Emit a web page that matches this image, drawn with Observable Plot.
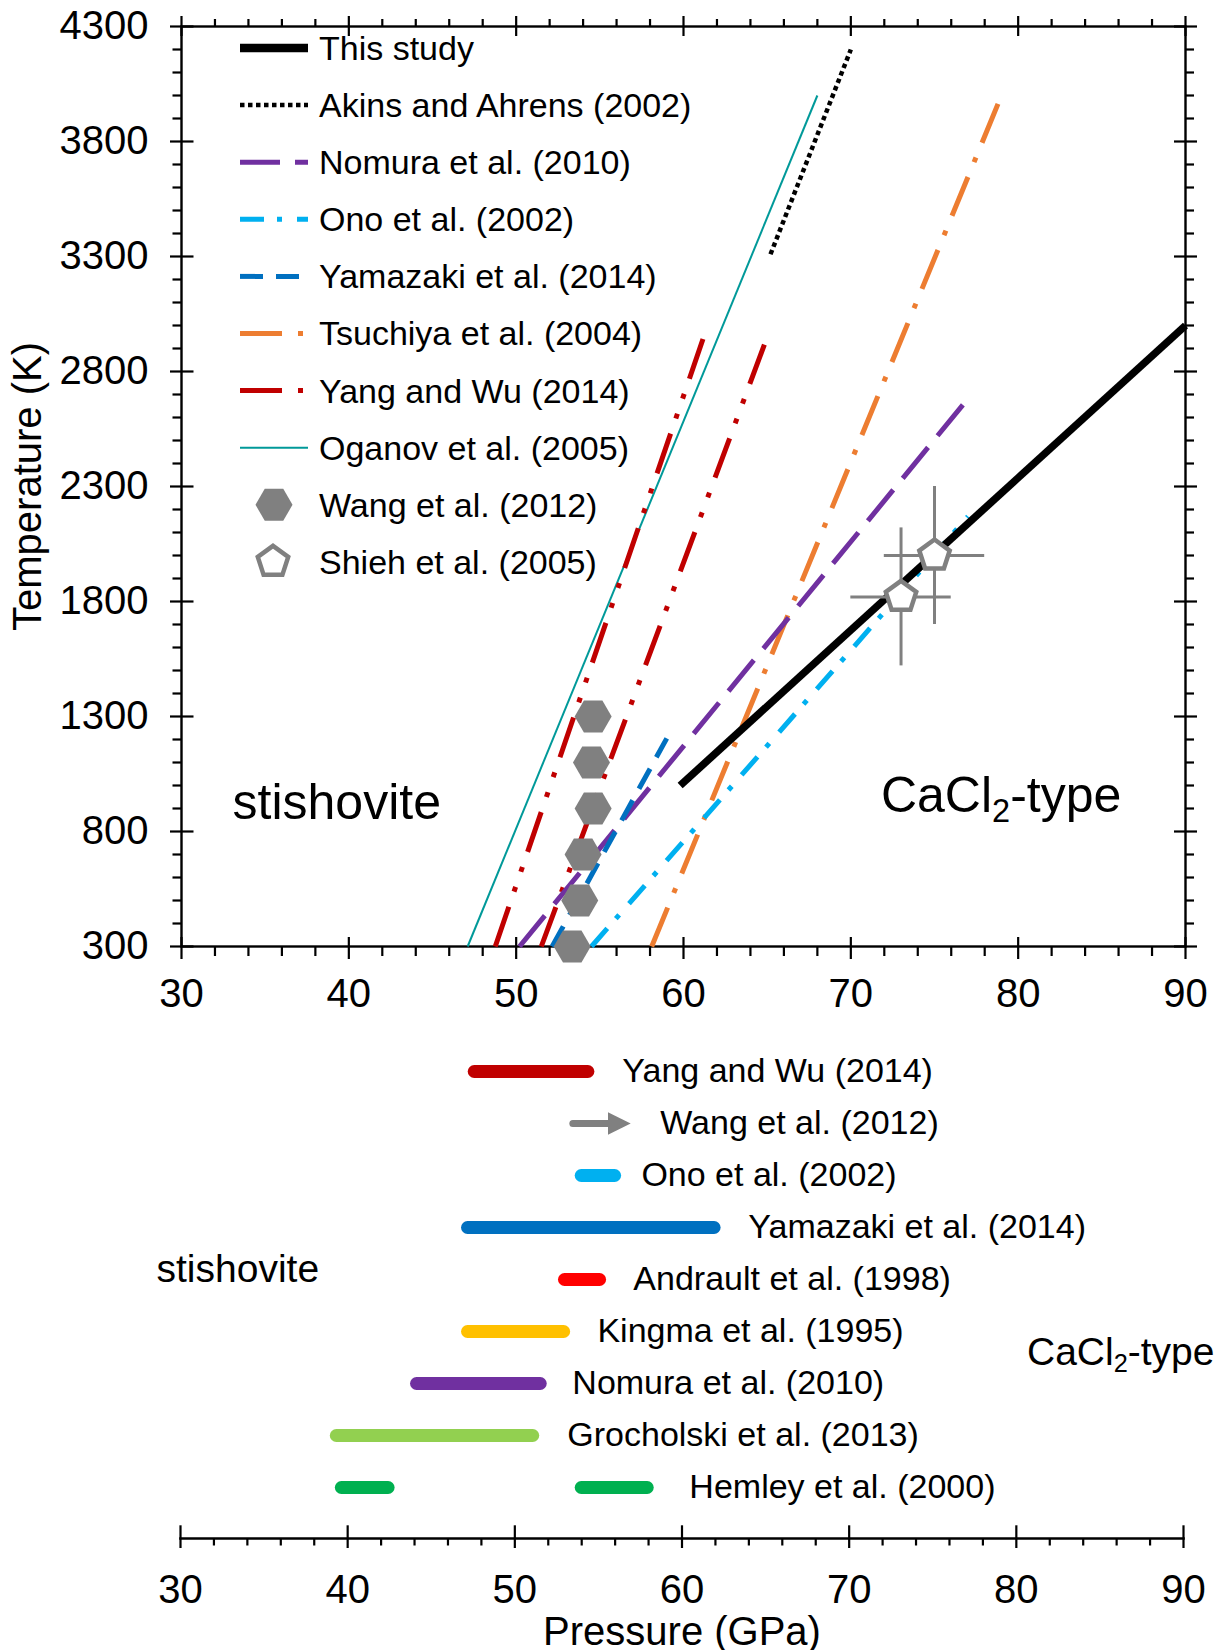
<!DOCTYPE html>
<html>
<head>
<meta charset="utf-8">
<script src="https://cdn.jsdelivr.net/npm/d3@7"></script>
<script src="https://cdn.jsdelivr.net/npm/@observablehq/plot@0.6"></script>
<style>
  body { margin: 0; background: #fff; font-family: "Liberation Sans", Arial, Helvetica, sans-serif; }
  #chart { width: 1221px; }
  #chart svg { display: block; }
</style>
</head>
<body>
<div id="chart"></div>
<script>
// ---------------- DATA ----------------
const pressureTicks = [30, 40, 50, 60, 70, 80, 90];
const temperatureTicks = [300, 800, 1300, 1800, 2300, 2800, 3300, 3800, 4300];

// Phase boundaries, pressure (GPa) / temperature (K) end points
const thisStudyP = [59.8, 90.0];   const thisStudyT = [1000, 3000];
const akinsP     = [65.2, 70.0];   const akinsT     = [3310, 4200];
const nomuraP    = [50.2, 77.2];   const nomuraT    = [300, 2700];
const onoP       = [54.5, 77.0];   const onoT       = [300, 2170];
const yamazakiP  = [52.15, 59.0];  const yamazakiT  = [300, 1205];
const tsuchiyaP  = [58.1, 79.0];   const tsuchiyaT  = [300, 4000];
const yangLowP   = [48.75, 61.3];  const yangLowT   = [300, 2970];
const yangHighP  = [51.5, 65.0];   const yangHighT  = [300, 2950];
const oganovP    = [47.1, 68.0];   const oganovT    = [300, 4000];

// Wang et al. (2012) transition points
const wangP = [54.6, 54.5, 54.6, 54.0, 53.8, 53.35];
const wangT = [1300, 1100, 900, 700, 500, 300];

// Shieh et al. (2005) points with error bars
const shiehP  = [73.0, 75.0];
const shiehT  = [1820, 2000];
const shiehDP = [3, 3];
const shiehDT = [300, 300];

// Legend of the upper panel
const legendNames = ["This study", "Akins and Ahrens (2002)", "Nomura et al. (2010)", "Ono et al. (2002)",
  "Yamazaki et al. (2014)", "Tsuchiya et al. (2004)", "Yang and Wu (2014)", "Oganov et al. (2005)",
  "Wang et al. (2012)", "Shieh et al. (2005)"];
const legendKeys = ["thisStudy", "akins", "nomura", "ono", "yamazaki", "tsuchiya", "yang", "oganov", "wang", "shieh"];

// Region labels of the upper panel
const regionNames = ["stishovite", "CaCl2-type"];
const regionP = [33.05, 71.8];
const regionT = [925, 955];

// Lower panel: transition pressure ranges at room temperature
const barStudies = ["Yang and Wu (2014)", "Wang et al. (2012)", "Ono et al. (2002)", "Yamazaki et al. (2014)",
  "Andrault et al. (1998)", "Kingma et al. (1995)", "Nomura et al. (2010)", "Grocholski et al. (2013)", "Hemley et al. (2000)"];
const segStudy = ["Yang and Wu (2014)", "Ono et al. (2002)", "Yamazaki et al. (2014)", "Andrault et al. (1998)",
  "Kingma et al. (1995)", "Nomura et al. (2010)", "Grocholski et al. (2013)", "Hemley et al. (2000)", "Hemley et al. (2000)"];
const segStart = [47.6, 54.0, 47.2, 53.0, 47.2, 44.15, 39.35, 39.65, 54.0];
const segEnd   = [54.4, 56.0, 61.95, 55.1, 52.95, 51.55, 51.1, 42.45, 57.95];
const arrowStudy = ["Wang et al. (2012)"];
const arrowStart = [53.5];
const arrowEnd   = [56.93];
const labelP = [56.43, 58.70, 57.57, 63.97, 57.09, 54.94, 53.44, 53.14, 60.44];

// ---------------- STYLES ----------------
const FONT = '"Liberation Sans", Arial, Helvetica, sans-serif';
const GRAY = "#808080";
const lineStyle = {
  thisStudy: {stroke: "#000000", strokeWidth: 7.5},
  akins:     {stroke: "#000000", strokeWidth: 4.5, strokeDasharray: "4.5,3.5"},
  nomura:    {stroke: "#7030A0", strokeWidth: 5, strokeDasharray: "40,15"},
  ono:       {stroke: "#00B0F0", strokeWidth: 5, strokeDasharray: "24,13,5,15"},
  yamazaki:  {stroke: "#0070C0", strokeWidth: 5, strokeDasharray: "23,13"},
  tsuchiya:  {stroke: "#ED7D31", strokeWidth: 5, strokeDasharray: "42,16,5,16"},
  yang:      {stroke: "#C00000", strokeWidth: 5, strokeDasharray: "42,16,5,16,5,16"},
  oganov:    {stroke: "#009999", strokeWidth: 2}
};
const barColor = {
  "Yang and Wu (2014)": "#C00000",
  "Wang et al. (2012)": GRAY,
  "Ono et al. (2002)": "#00B0F0",
  "Yamazaki et al. (2014)": "#0070C0",
  "Andrault et al. (1998)": "#FF0000",
  "Kingma et al. (1995)": "#FFC000",
  "Nomura et al. (2010)": "#7030A0",
  "Grocholski et al. (2013)": "#92D050",
  "Hemley et al. (2000)": "#00B050"
};

// custom symbols
const hexagonFlat = {draw(ctx, size) {
  const r = Math.sqrt(size / Math.PI);
  for (let k = 0; k < 6; k++) {
    const a = k * Math.PI / 3, x = r * Math.cos(a), y = r * Math.sin(a);
    if (k) ctx.lineTo(x, y); else ctx.moveTo(x, y);
  }
  ctx.closePath();
}};
const pentagon = {draw(ctx, size) {
  const r = Math.sqrt(size / Math.PI);
  for (let k = 0; k < 5; k++) {
    const a = -Math.PI / 2 + k * 2 * Math.PI / 5, x = r * Math.cos(a), y = r * Math.sin(a);
    if (k) ctx.lineTo(x, y); else ctx.moveTo(x, y);
  }
  ctx.closePath();
}};
const arrowHead = {draw(ctx, size) {
  const r = Math.sqrt(size / Math.PI);
  ctx.moveTo(-r, -r); ctx.lineTo(r, 0); ctx.lineTo(-r, r); ctx.closePath();
}};

// ---------------- TABLES ----------------
const boundaries = [
  {style: "oganov", P: oganovP, T: oganovT},
  {style: "yang", P: yangLowP, T: yangLowT},
  {style: "yang", P: yangHighP, T: yangHighT},
  {style: "tsuchiya", P: tsuchiyaP, T: tsuchiyaT},
  {style: "nomura", P: nomuraP, T: nomuraT},
  {style: "yamazaki", P: yamazakiP, T: yamazakiT},
  {style: "ono", P: onoP, T: onoT},
  {style: "thisStudy", P: thisStudyP, T: thisStudyT},
  {style: "akins", P: akinsP, T: akinsT}
];
const wang = wangP.map((p, i) => ({P: p, T: wangT[i]}));
const shieh = shiehP.map((p, i) => ({P: p, T: shiehT[i], dP: shiehDP[i], dT: shiehDT[i]}));
const regions = regionNames.map((n, i) => ({name: n, P: regionP[i], T: regionT[i]}));
const segments = segStudy.map((s, i) => ({study: s, start: segStart[i], end: segEnd[i]}));
const arrows = arrowStudy.map((s, i) => ({study: s, start: arrowStart[i], end: arrowEnd[i]}));
const barLabels = barStudies.map((s, i) => ({study: s, P: labelP[i]}));

const pressureMinor = d3.range(30, 90.01, 2).filter(v => v % 10 !== 0);
const temperatureMinor = d3.range(300, 4300.1, 100).filter(v => (v - 300) % 500 !== 0);
const fmt = d => String(d);

// ---------------- UPPER PANEL ----------------
const W = 1221;
const TOP_H = 1020, TOP_ML = 181, TOP_MR = 36, TOP_MT = 26, TOP_MB = 74;
const frameW = W - TOP_ML - TOP_MR, frameH = TOP_H - TOP_MT - TOP_MB;
const AX = 2.2;

function legendMark() {
  const g = d3.create("svg:g").attr("font-family", FONT).attr("font-size", 34)
    .attr("fill", "black").attr("text-anchor", "start");
  legendNames.forEach((name, i) => {
    const key = legendKeys[i];
    const y = 48 + 57.1 * i;
    if (lineStyle[key]) {
      const s = lineStyle[key];
      g.append("line").attr("x1", 240).attr("x2", 308).attr("y1", y).attr("y2", y)
        .attr("stroke", s.stroke).attr("stroke-width", key === "thisStudy" ? 8.5 : s.strokeWidth)
        .attr("stroke-dasharray", s.strokeDasharray || null).attr("stroke-linecap", "butt");
    } else if (key === "wang") {
      g.append("path").attr("transform", `translate(274,${y})`)
        .attr("d", d3.symbol(hexagonFlat, Math.PI * 18.5 * 18.5)()).attr("fill", GRAY);
    } else {
      g.append("path").attr("transform", `translate(273,${y})`)
        .attr("d", d3.symbol(pentagon, Math.PI * 16 * 16)()).attr("fill", "white")
        .attr("stroke", GRAY).attr("stroke-width", 4.5);
    }
    g.append("text").attr("x", 319).attr("y", y).attr("dy", "0.35em")
      .attr("text-anchor", "start").text(name);
  });
  return g.node();
}

const topPlot = Plot.plot({
  width: W, height: TOP_H,
  marginLeft: TOP_ML, marginRight: TOP_MR, marginTop: TOP_MT, marginBottom: TOP_MB,
  style: {fontFamily: FONT, background: "white", color: "black", overflow: "visible"},
  x: {domain: [30, 90], label: null},
  y: {domain: [300, 4300], label: null},
  marks: [
    Plot.frame({stroke: "black", strokeWidth: 2.4}),
    // bottom axis
    Plot.axisX({ticks: pressureTicks, anchor: "bottom", tickSize: 13, tickPadding: 19, tickFormat: fmt, fontSize: 40, strokeWidth: AX, label: null}),
    Plot.axisX({ticks: pressureMinor, anchor: "bottom", tickSize: 10, tickFormat: () => "", strokeWidth: AX, label: null}),
    Plot.ruleX(pressureTicks, {insetTop: frameH - 9, strokeWidth: AX}),
    // top axis
    Plot.axisX({ticks: pressureTicks, anchor: "top", tickSize: 11, tickFormat: () => "", strokeWidth: AX, label: null}),
    Plot.axisX({ticks: pressureMinor, anchor: "top", tickSize: 8, tickFormat: () => "", strokeWidth: AX, label: null}),
    Plot.ruleX(pressureTicks, {insetBottom: frameH - 10, strokeWidth: AX}),
    // left axis
    Plot.axisY({ticks: temperatureTicks, anchor: "left", tickSize: 11, tickPadding: 22, tickFormat: fmt, fontSize: 40, strokeWidth: AX, label: null}),
    Plot.axisY({ticks: temperatureMinor, anchor: "left", tickSize: 8.5, tickFormat: () => "", strokeWidth: AX, label: null}),
    Plot.ruleY(temperatureTicks, {insetRight: frameW - 12.5, strokeWidth: AX}),
    // right axis
    Plot.axisY({ticks: temperatureTicks, anchor: "right", tickSize: 11, tickFormat: () => "", strokeWidth: AX, label: null}),
    Plot.axisY({ticks: temperatureMinor, anchor: "right", tickSize: 8, tickFormat: () => "", strokeWidth: AX, label: null}),
    Plot.ruleY(temperatureTicks, {insetLeft: frameW - 11, strokeWidth: AX}),
    // phase boundaries
    ...boundaries.map(b => Plot.line(b.P.map((p, i) => ({P: p, T: b.T[i]})),
      {x: "P", y: "T", ...lineStyle[b.style], strokeLinecap: "butt"})),
    // Wang et al. points
    Plot.dot(wang, {x: "P", y: "T", symbol: hexagonFlat, r: 18.5, fill: GRAY, stroke: "none"}),
    // Shieh et al. error bars and points
    Plot.ruleY(shieh, {y: "T", x1: d => d.P - d.dP, x2: d => d.P + d.dP, stroke: GRAY, strokeWidth: 3}),
    Plot.ruleX(shieh, {x: "P", y1: d => d.T - d.dT, y2: d => d.T + d.dT, stroke: GRAY, strokeWidth: 3}),
    Plot.dot(shieh, {x: "P", y: "T", symbol: pentagon, r: 16, fill: "white", stroke: GRAY, strokeWidth: 4.5}),
    // region labels
    Plot.text(regions, {x: "P", y: "T", text: "name", textAnchor: "start", fontSize: 50}),
    // y axis title
    Plot.text(["Temperature (K)"], {frameAnchor: "left", dx: -153, rotate: -90, textAnchor: "middle", lineAnchor: "middle", fontSize: 40}),
    // legend
    legendMark
  ]
});

// ---------------- LOWER PANEL ----------------
const BOT_H = 630, BOT_ML = 180, BOT_MR = 38, BOT_MT = 0, BOT_MB = 112;
const botFrameH = BOT_H - BOT_MT - BOT_MB;

const bottomPlot = Plot.plot({
  width: W, height: BOT_H,
  marginLeft: BOT_ML, marginRight: BOT_MR, marginTop: BOT_MT, marginBottom: BOT_MB,
  style: {fontFamily: FONT, background: "white", color: "black", overflow: "visible"},
  x: {domain: [30, 90], label: null},
  y: {type: "point", domain: barStudies, range: [51, 467], padding: 0, axis: null, label: null},
  color: {type: "identity"},
  marks: [
    Plot.frame({anchor: "bottom", stroke: "black", strokeWidth: 2.6}),
    Plot.axisX({ticks: pressureTicks, anchor: "bottom", tickSize: 10, tickPadding: 26, tickFormat: fmt, fontSize: 40, strokeWidth: AX, label: null}),
    Plot.axisX({ticks: pressureMinor, anchor: "bottom", tickSize: 7.5, tickFormat: () => "", strokeWidth: AX, label: null}),
    Plot.ruleX(pressureTicks, {insetTop: botFrameH - 12.7, strokeWidth: AX}),
    Plot.ruleY(segments, {y: "study", x1: "start", x2: "end", stroke: d => barColor[d.study], strokeWidth: 13, strokeLinecap: "round"}),
    Plot.ruleY(arrows, {y: "study", x1: "start", x2: "end", insetRight: 16, stroke: GRAY, strokeWidth: 7, strokeLinecap: "round"}),
    Plot.dot(arrows, {x: "end", y: "study", symbol: arrowHead, r: 11.35, dx: -11.35, fill: GRAY, stroke: "none"}),
    Plot.text(barLabels, {x: "P", y: "study", text: "study", textAnchor: "start", fontSize: 34}),
    Plot.text(["stishovite"], {frameAnchor: "left", dx: -24, dy: -10.3, textAnchor: "start", lineAnchor: "middle", fontSize: 39}),
    Plot.text(["CaCl2-type"], {frameAnchor: "right", dx: -156.5, dy: 72.6, textAnchor: "start", lineAnchor: "middle", fontSize: 39}),
    Plot.text(["Pressure (GPa)"], {frameAnchor: "bottom", dy: 93.7, textAnchor: "middle", lineAnchor: "middle", fontSize: 40})
  ]
});

const chart = document.getElementById("chart");
chart.appendChild(topPlot);
chart.appendChild(bottomPlot);

// subscript in "CaCl2-type"
d3.selectAll("#chart text").each(function () {
  if (this.textContent === "CaCl2-type") {
    const fs = parseFloat(getComputedStyle(this).fontSize) || 40;
    const shift = 0.2 * fs;
    const t = d3.select(this);
    t.text("");
    t.append("tspan").text("CaCl");
    t.append("tspan").attr("font-size", (0.65 * fs) + "px").attr("dy", shift).text("2");
    t.append("tspan").attr("dy", -shift).text("-type");
  }
});
</script>
</body>
</html>
